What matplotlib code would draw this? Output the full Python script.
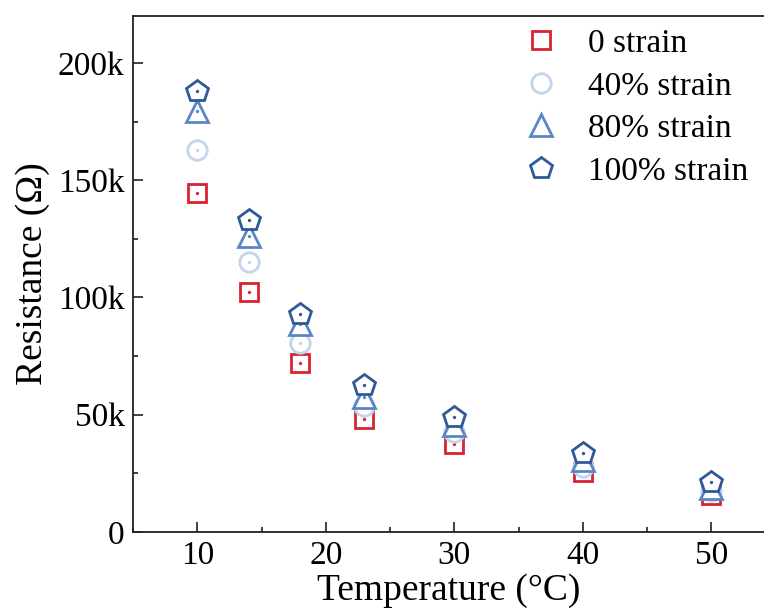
import matplotlib
matplotlib.use("Agg")
import matplotlib.pyplot as plt
from matplotlib.ticker import MultipleLocator, FuncFormatter

temperature = [10, 14, 18, 23, 30, 40, 50]
strain_labels = ["0 strain", "40% strain", "80% strain", "100% strain"]
r_0 = [144.5e3, 102.3e3, 72.1e3, 48.0e3, 37.5e3, 25.6e3, 15.8e3]
r_40 = [162.7e3, 115.0e3, 80.4e3, 53.7e3, 42.7e3, 27.8e3, 17.5e3]
r_80 = [179.3e3, 126.0e3, 88.6e3, 57.6e3, 45.5e3, 30.5e3, 18.8e3]
r_100 = [188.0e3, 132.9e3, 93.1e3, 62.6e3, 49.1e3, 33.5e3, 21.4e3]

series = [r_0, r_40, r_80, r_100]
colors = ["#d9232f", "#c3d4ec", "#5b86c4", "#2e5a97"]
markers = ["s", "o", "^", "p"]
msizes = [12.5, 14, 15.5, 16]

plt.rcParams['font.family'] = ['Liberation Serif', 'DejaVu Serif']
plt.rcParams['mathtext.fontset'] = 'stix'

fig = plt.figure(figsize=(7.64, 6.12), dpi=100)
ax = fig.add_axes([133/764, 80/612, 1 - 133/764, (532-16)/612])

z = 3
for vals, c, m, ms, lab in zip(series, colors, markers, msizes, strain_labels):
    ax.plot(temperature, vals, linestyle='none', marker=m, markersize=ms,
            markerfacecolor='white', markeredgecolor=c, markeredgewidth=2.0,
            label=lab, zorder=z)
    ax.plot(temperature, vals, linestyle='none', marker='o', markersize=2.4,
            markerfacecolor=c, markeredgecolor=c, markeredgewidth=0, zorder=z + 0.5)
    z += 1

ax.set_xlim(5, 54.1)
ax.set_ylim(0, 220e3)
ax.xaxis.set_major_locator(MultipleLocator(10))
ax.xaxis.set_minor_locator(MultipleLocator(5))
ax.yaxis.set_major_locator(MultipleLocator(50e3))
ax.yaxis.set_minor_locator(MultipleLocator(25e3))
ax.yaxis.set_major_formatter(FuncFormatter(lambda v, p: "0" if v == 0 else f"{int(v/1000)}k"))

ax.tick_params(which='both', direction='in', top=False, right=False, width=1.2,
               labelsize=24, color='#222222')
ax.tick_params(which='major', length=7.5, pad=6)
ax.tick_params(which='minor', length=3.8)
ax.spines['right'].set_visible(False)
for s in ['left', 'bottom', 'top']:
    ax.spines[s].set_linewidth(1.3)
    ax.spines[s].set_color('#222222')

ax.set_xlabel("Temperature (°C)", fontsize=27, labelpad=2)
ax.set_ylabel("Resistance (Ω)", fontsize=27, labelpad=6)

leg = ax.legend(loc='upper right', frameon=False, fontsize=24, handletextpad=0.8,
                labelspacing=0.36, borderaxespad=0.1, handlelength=1.2,
                bbox_to_anchor=(1.001, 1.008))
for h in leg.legend_handles:
    h.set_markeredgewidth(2.0)

fig.savefig("out.png", dpi=100)
